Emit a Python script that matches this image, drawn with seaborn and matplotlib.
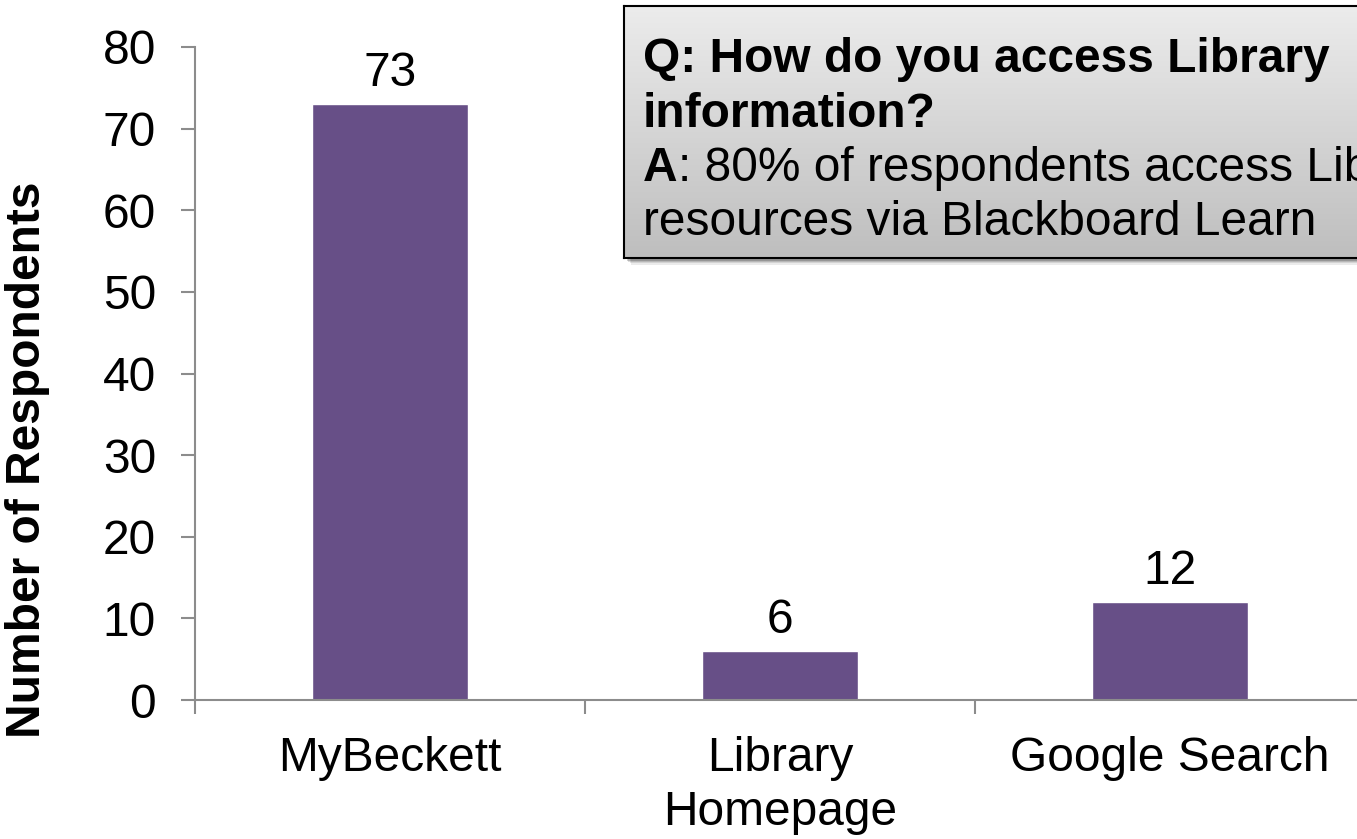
import seaborn as sns
import matplotlib.pyplot as plt
import numpy as np
import pandas as pd
from matplotlib.patches import Rectangle

# data
categories = ["MyBeckett", "Library\nHomepage", "Google Search"]
respondents = [73, 6, 12]

df = pd.DataFrame({"source": categories, "n": respondents})

sns.set_style("white")
plt.rcParams["font.family"] = ["Liberation Sans", "DejaVu Sans"]
plt.rcParams["text.color"] = "black"
plt.rcParams["axes.labelcolor"] = "black"
plt.rcParams["xtick.labelcolor"] = "black"
plt.rcParams["ytick.labelcolor"] = "black"

FS = 34.5
W, H = 1357, 839
fig = plt.figure(figsize=(W / 100, H / 100), dpi=100)
ax = fig.add_axes([195 / W, 1 - 700 / H, 1170 / W, 653 / H])

sns.barplot(data=df, x="source", y="n", color="#674F87", saturation=1,
            width=0.4, ax=ax)
ax.bar_label(ax.containers[0], fontsize=FS, padding=6, color="black")

ax.set_xlim(-0.5, 2.5)
ax.set_ylim(0, 80)
ax.set_yticks(range(0, 81, 10))
ax.set_xlabel("")
ax.set_ylabel("Number of Respondents", fontsize=FS, fontweight="bold")
ax.yaxis.set_label_coords(-145 / 1170, 0.3675)

for s in ["top", "right"]:
    ax.spines[s].set_visible(False)
for s in ["left", "bottom"]:
    ax.spines[s].set_color("#8C8C8C")
    ax.spines[s].set_linewidth(1.5)

ax.tick_params(axis="y", which="major", labelsize=FS, length=10,
               width=1.5, color="#8C8C8C", direction="out", left=True, pad=18)
ax.tick_params(axis="x", which="major", labelsize=FS, length=0, pad=26)
ax.set_xticks([-0.5, 0.5, 1.5, 2.5], minor=True)
ax.tick_params(axis="x", which="minor", length=10, width=1.5,
               color="#8C8C8C", direction="out", bottom=True)
for lbl in ax.get_xticklabels():
    lbl.set_linespacing(1.25)

# callout box with shadow and gradient
bx0, by0, bx1, by1 = 624, 6, 1380, 258
for i, a in enumerate([0.08, 0.10, 0.13, 0.18]):
    off = 7 - i * 1.5
    fig.patches.append(Rectangle(((bx0 + off) / W, 1 - (by1 + off) / H),
                                 (bx1 - bx0) / W, (by1 - by0) / H,
                                 transform=fig.transFigure, facecolor="black",
                                 alpha=a, edgecolor="none", zorder=1))
bax = fig.add_axes([bx0 / W, 1 - by1 / H, (bx1 - bx0) / W, (by1 - by0) / H], zorder=2)
grad = np.linspace(0, 1, 256).reshape(-1, 1)
bax.imshow(grad, aspect="auto", cmap=sns.blend_palette(["#ECECEC", "#BEBEBE"], as_cmap=True),
           extent=[0, 1, 0, 1], origin="upper")
bax.set_xticks([])
bax.set_yticks([])
for s in bax.spines.values():
    s.set_color("black")
    s.set_linewidth(1.5)

tx = 643 / W
fig.text(tx, 1 - 72 / H, "Q: How do you access Library", fontsize=FS,
         fontweight="bold", va="baseline", zorder=3)
fig.text(tx, 1 - 127 / H, "information?", fontsize=FS,
         fontweight="bold", va="baseline", zorder=3)
ta = fig.text(tx, 1 - 181 / H, "A", fontsize=FS, fontweight="bold",
              va="baseline", zorder=3)
bax.annotate(": 80% of respondents access Library", xy=(1, 0), xycoords=ta,
             fontsize=FS, va="bottom", ha="left", annotation_clip=False)
fig.text(tx, 1 - 235 / H, "resources via Blackboard Learn", fontsize=FS,
         va="baseline", zorder=3)

fig.savefig("out.png", dpi=100)
